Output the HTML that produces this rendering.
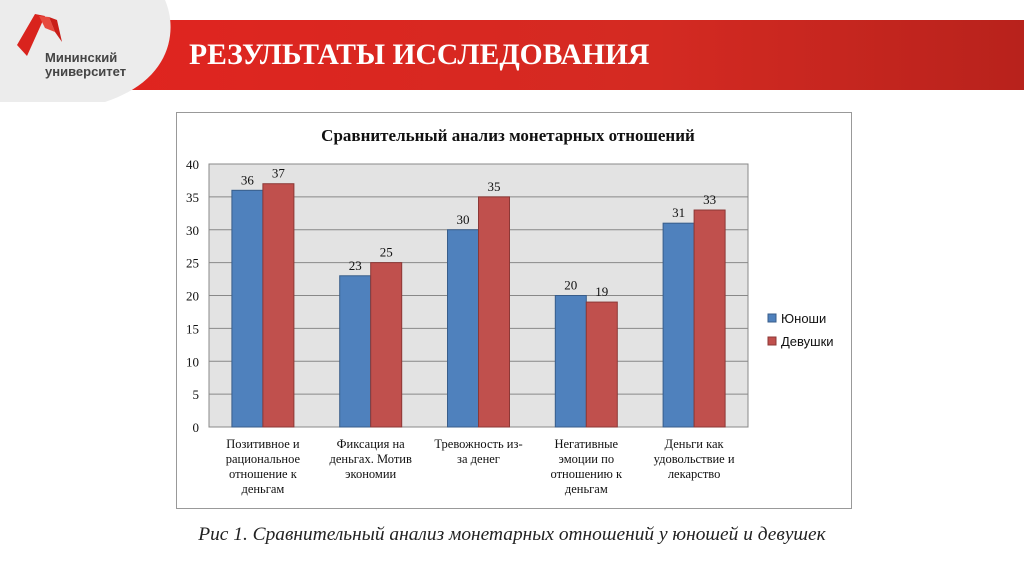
<!DOCTYPE html>
<html><head><meta charset="utf-8"><style>
body{margin:0;width:1024px;height:574px;background:#fff;position:relative;overflow:hidden;font-family:"Liberation Serif",serif}
.band{position:absolute;left:100px;top:20px;width:924px;height:70px;background:linear-gradient(90deg,#e0241f,#d42a22 60%,#b8221c)}
.title{position:absolute;left:189px;top:39px;color:#fff;font-weight:bold;font-size:29.6px;letter-spacing:0px}
.logo{position:absolute;left:45px;top:51px;font-family:"Liberation Sans",sans-serif;font-weight:bold;font-size:13px;line-height:14px;color:#444}
.cap{position:absolute;left:0;width:1024px;top:524px;text-align:center;font-style:italic;font-size:19.4px;color:#222}
</style></head><body>
<div class="band"></div>
<svg style="position:absolute;left:0;top:0" width="180" height="105"><path d="M0,0 L165,0 C178,30 172,80 105,102 L0,102 Z" fill="#ececec"/></svg>
<svg style="position:absolute;left:15px;top:12px" width="52" height="48"><polygon points="2,33 20,2 30,4 12,44" fill="#d9231d"/><polygon points="24,4 34,5 40,20 30,16" fill="#e74a3e"/><polygon points="34,5 42,8 47,30 40,20" fill="#c91e18"/></svg>
<div class="logo">Мининский<br>университет</div>
<div class="title">РЕЗУЛЬТАТЫ ИССЛЕДОВАНИЯ</div>
<svg id="chart" style="position:absolute;left:0;top:0" width="1024" height="574"></svg>
<div class="cap">Рис 1. Сравнительный анализ монетарных отношений у юношей и девушек</div>
<script>
const categories=[["Позитивное и","рациональное","отношение к","деньгам"],["Фиксация на","деньгах. Мотив","экономии"],["Тревожность из-","за денег"],["Негативные","эмоции по","отношению к","деньгам"],["Деньги как","удовольствие и","лекарство"]];
const boys=[36,23,30,20,31];
const girls=[37,25,35,19,33];
const ticks=[0,5,10,15,20,25,30,35,40];
const NS="http://www.w3.org/2000/svg",svg=document.getElementById('chart');
const X0=209,X1=748,Y0=427,Y1=164,MAX=40;
const y=v=>Y0-(Y0-Y1)*v/MAX;
const cw=(X1-X0)/categories.length;
function el(t,a,txt){const e=document.createElementNS(NS,t);for(const k in a)e.setAttribute(k,a[k]);if(txt!=null)e.textContent=txt;svg.appendChild(e);return e;}
let f=el('rect',{x:176.5,y:112.5,width:675,height:396,fill:'#fff',stroke:'#999'});


let p=el('rect',{x:X0,y:Y1,width:X1-X0,height:Y0-Y1,fill:'#e3e3e3',stroke:'#888'});


ticks.forEach(t=>{let l=el('line',{x1:X0,x2:X1,y1:y(t),y2:y(t),stroke:'#888'});


let tx=el('text',{x:199,y:y(t)+5,'text-anchor':'end','font-size':13,fill:'#111'},t);

});
let tt=el('text',{x:508,y:141,'text-anchor':'middle','font-size':17,'font-weight':'bold',fill:'#111'},'Сравнительный анализ монетарных отношений');


const bw=31;
categories.forEach((c,i)=>{const cx=X0+cw*(i+0.5);
[[boys[i],'#4f81bd','#385d8a',cx-bw,'bar-boys'],[girls[i],'#c0504d','#8c3836',cx,'bar-girls']].forEach(([v,fc,sc,bx,nm])=>{
let r=el('rect',{x:bx,y:y(v),width:bw,height:Y0-y(v),fill:fc,stroke:sc});


let lb=el('text',{x:bx+bw/2,y:y(v)-6,'text-anchor':'middle','font-size':13,fill:'#111'},v);

});
c.forEach((ln,j)=>{let t=el('text',{x:cx,y:448+j*15,'text-anchor':'middle','font-size':12.5,fill:'#111'},ln);

});});
[['Юноши','#4f81bd','#385d8a',318],['Девушки','#c0504d','#8c3836',341]].forEach(([n,fc,sc,yy])=>{
let r=el('rect',{x:768,y:yy-4,width:8,height:8,fill:fc,stroke:sc});


let t=el('text',{x:781,y:yy+5,'font-size':13,'font-family':'Liberation Sans, sans-serif',fill:'#111'},n);

});
</script>
</body></html>
